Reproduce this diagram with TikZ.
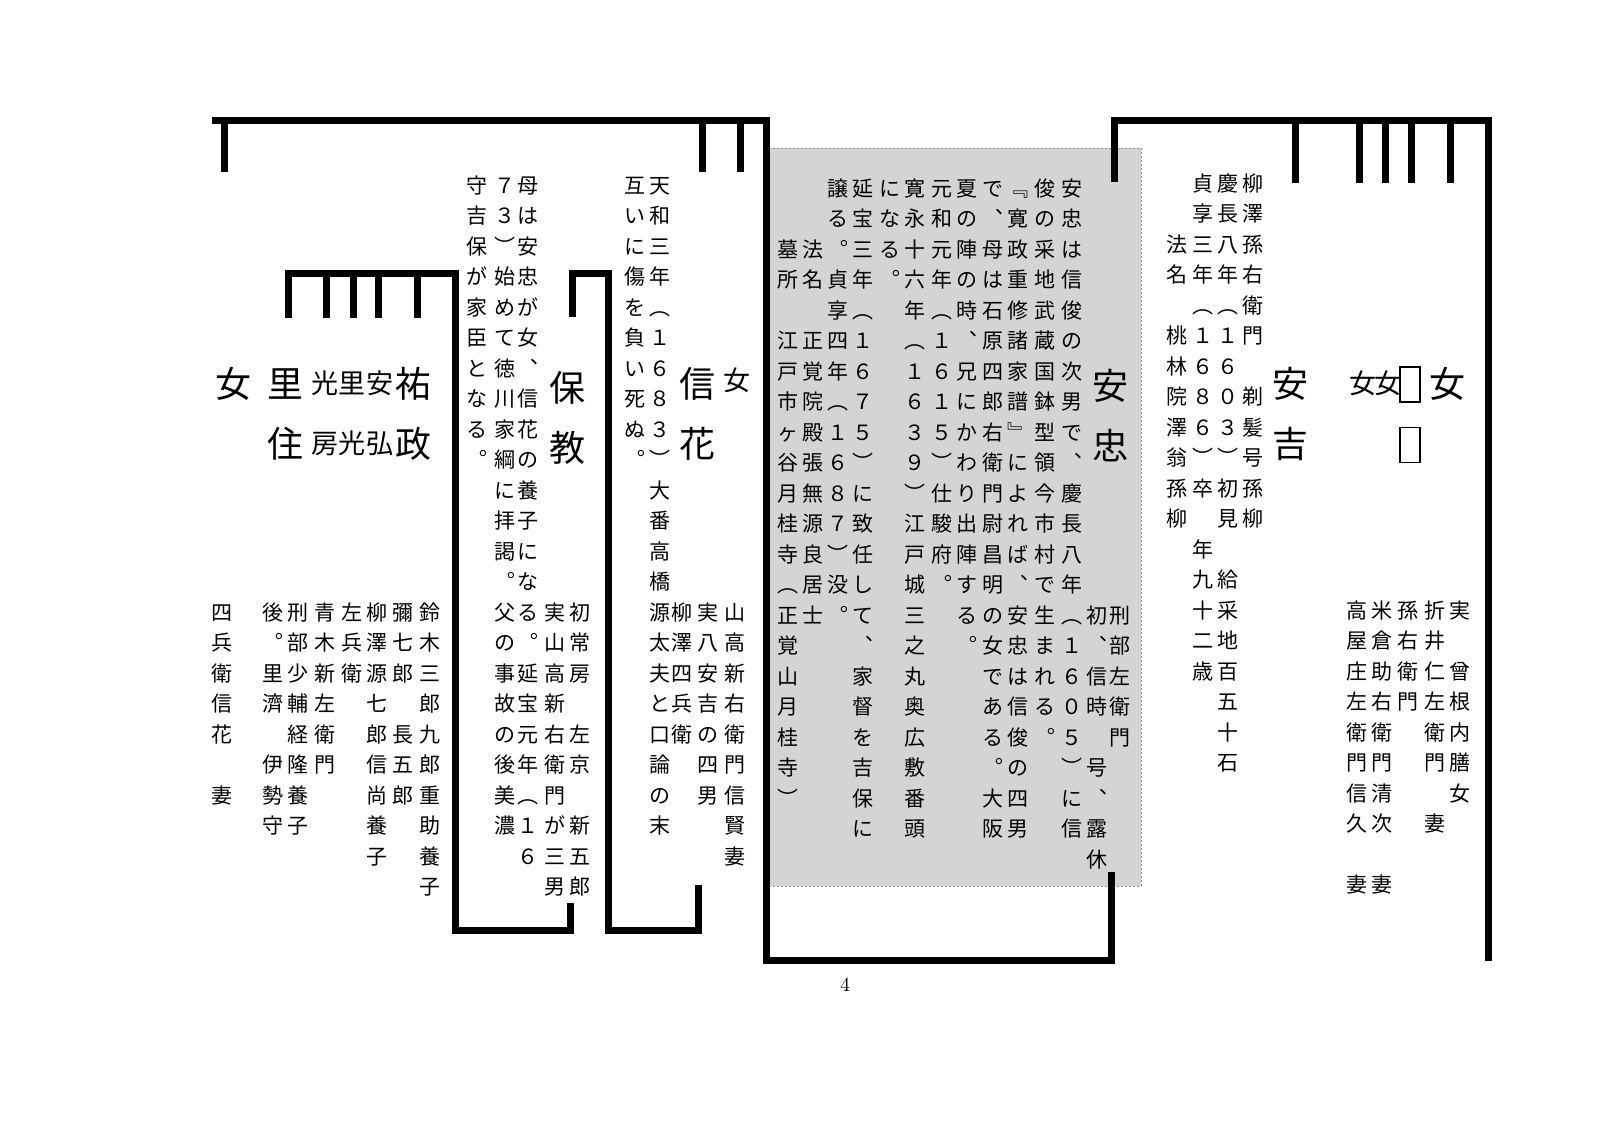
\documentclass[tikz,border=0pt]{standalone}
\usepackage{fontspec}
\newfontfamily\jp{Noto Sans CJK JP}
\makeatletter
\newcommand\bk{}
% vertical column: each character in a fixed cell of height #1
\newcommand\vcol[2][15.25pt]{%
  \vtop{\offinterlineskip\@tfor\vc@c:=#2\do{%
    \hbox to 1.2em{\hss\vbox to #1{\vss\hbox{\rule[-0.12em]{0pt}{1em}\vc@c}\vss}\hss}}}}
\makeatother
\tikzset{
  vt/.style={inner sep=0pt, anchor=north, font=\jp\fontsize{10.5pt}{10.5pt}\selectfont},
  bigname/.style={inner sep=0pt, anchor=north, font=\jp\fontsize{18pt}{18pt}\selectfont},
  midname/.style={inner sep=0pt, anchor=north, font=\jp\fontsize{13.5pt}{13.5pt}\selectfont},
  famline/.style={line width=3.5pt, line join=miter},
  tofu/.style={draw, line width=0.8pt, inner sep=0pt, minimum width=10pt, minimum height=17.5pt},
  graybox/.style={fill=black!17, draw=black!45, line width=0.5pt, dash pattern=on 1pt off 1pt},
  pagenum/.style={inner sep=0pt, font=\fontsize{10pt}{10pt}\selectfont}
}
\begin{document}
\begin{tikzpicture}[x=0.5pt, y=-0.5pt]
\useasboundingbox (0,0) rectangle (1600,1131);
\fill[white] (0,0) rectangle (1600,1131);

% shaded block
\path[graybox] (767,148) rectangle (1141,886);

% ---------- coordinates for line ends ----------
\coordinate (tl-start) at (212,120);
\coordinate (tl-corner) at (766,960);
\coordinate (yt-foot) at (1111,872);
\coordinate (tl-d1a) at (224,120); \coordinate (tl-d1b) at (224,172);
\coordinate (tl-d2a) at (702,120); \coordinate (tl-d2b) at (702,172);
\coordinate (tl-d3a) at (740,120); \coordinate (tl-d3b) at (740,172);
\coordinate (yt-head) at (1114,182);
\coordinate (tr-corner) at (1488,120);
\coordinate (tr-end) at (1488,961);
\coordinate (lg-foot) at (570,903);
\coordinate (lg-bot) at (455,930);
\coordinate (lg-top) at (288,273);
\coordinate (lg-d1) at (288,318);
\coordinate (nh-foot) at (698,885);
\coordinate (nh-bot) at (608,930);
\coordinate (nh-top) at (572,273);
\coordinate (nh-d) at (572,317);

% ---------- family lines ----------
\draw[famline] (tl-start) -| (tl-corner) -| (yt-foot);
\draw[famline] (tl-d1a) -- (tl-d1b);
\draw[famline] (tl-d2a) -- (tl-d2b);
\draw[famline] (tl-d3a) -- (tl-d3b);
\draw[famline] (yt-head) |- (tr-corner) -- (tr-end);
\foreach \xx/\nm in {1295/a,1359/b,1385/c,1411/d,1450/e}{
  \coordinate (tr-\nm-top) at (\xx,120);
  \coordinate (tr-\nm-bot) at (\xx,183);
  \draw[famline] (tr-\nm-top) -- (tr-\nm-bot);
}
\draw[famline] (lg-foot) |- (lg-bot) |- (lg-top) -- (lg-d1);
\foreach \xx/\nm in {326/b,353/c,378/d,417/e}{
  \coordinate (lg-\nm-top) at (\xx,273);
  \coordinate (lg-\nm-bot) at (\xx,318);
  \draw[famline] (lg-\nm-top) -- (lg-\nm-bot);
}
\draw[famline] (nh-foot) |- (nh-bot) |- (nh-top) -- (nh-d);

% ---------- right section ----------
\node[bigname] (yasuyoshi) at (1290,353) {\vcol[30pt]{安吉}};
\node[midname] (onna-r1) at (1363,353) {\vcol[30pt]{女}};
\node[midname] (onna-r2) at (1388,353) {\vcol[30pt]{女}};
\node[tofu] (tofu1) at (1410,384.5) {};
\node[tofu] (tofu2) at (1410,445) {};
\node[bigname] (onna-r3) at (1447,353) {\vcol[30pt]{女}};
\node[vt] (r1) at (1253,167.75) {\vcol{柳澤孫右衛門\bk 剃髪号孫柳}};
\node[vt] (r2) at (1228,167.75) {\vcol{慶長八年︵１６０３︶初見\bk 給采地百五十石}};
\node[vt] (r3) at (1203,167.75) {\vcol{貞享三年︵１６８６︶卒\bk 年九十二歳}};
\node[vt] (r4) at (1177,167.75) {\vcol{\bk\bk 法名\bk 桃林院澤翁孫柳}};
\node[vt] (r5) at (1460,594.75) {\vcol{実\bk 曾根内膳女}};
\node[vt] (r6) at (1435,594.75) {\vcol{折井仁左衛門\bk 妻}};
\node[vt] (r7) at (1408,594.75) {\vcol{孫右衛門}};
\node[vt] (r8) at (1382,594.75) {\vcol{米倉助右衛門清次\bk 妻}};
\node[vt] (r9) at (1357,594.75) {\vcol{高屋庄左衛門信久\bk 妻}};

% ---------- centre section ----------
\node[bigname] (yasutada) at (1110,355) {\vcol[30pt]{安忠}};
\node[vt] (c14) at (1120,599.75) {\vcol{刑部左衛門}};
\node[vt] (c13) at (1097,599.75) {\vcol{初︑信時\bk 号︑露休}};
\node[vt] (c1) at (1072,172.75) {\vcol{安忠は信俊の次男で︑慶長八年︵１６０５︶に信}};
\node[vt] (c2) at (1045,172.75) {\vcol{俊の采地武蔵国鉢型領今市村で生まれる︒}};
\node[vt] (c3) at (1018,172.75) {\vcol{﹃寛政重修諸家譜﹄によれば︑安忠は信俊の四男}};
\node[vt] (c4) at (993,172.75) {\vcol{で︑母は石原四郎右衛門尉昌明の女である︒大阪}};
\node[vt] (c5) at (967,172.75) {\vcol{夏の陣の時︑兄にかわり出陣する︒}};
\node[vt] (c6) at (942,172.75) {\vcol{元和元年︵１６１５︶仕駿府︒}};
\node[vt] (c7) at (915,172.75) {\vcol{寛永十六年︵１６３９︶江戸城三之丸奥広敷番頭}};
\node[vt] (c8) at (890,172.75) {\vcol{になる︒}};
\node[vt] (c9) at (863,172.75) {\vcol{延宝三年︵１６７５︶に致任して︑家督を吉保に}};
\node[vt] (c10) at (838,172.75) {\vcol{譲る︒貞享四年︵１６８７︶没︒}};
\node[vt] (c11) at (813,172.75) {\vcol{\bk\bk 法名\bk 正覚院殿張無源良居士}};
\node[vt] (c12) at (788,172.75) {\vcol{\bk\bk 墓所\bk 江戸市ヶ谷月桂寺︵正覚山月桂寺︶}};

% ---------- Nobuhana section ----------
\node[midname] (onna-n) at (737,350) {\vcol[30pt]{女}};
\node[bigname] (nobuhana) at (697,353) {\vcol[30pt]{信花}};
\node[vt] (n5) at (735,596.75) {\vcol{山高新右衛門信賢妻}};
\node[vt] (n4) at (708,596.75) {\vcol{実八安吉の四男}};
\node[vt] (n3) at (682,596.75) {\vcol{柳澤四兵衛}};
\node[vt] (n1) at (660,169.75) {\vcol{天和三年︵１６８３︶大番高橋源太夫と口論の末}};
\node[vt] (n2) at (635,169.75) {\vcol{互いに傷を負い死ぬ︒}};

% ---------- Yasunori section ----------
\node[bigname] (yasunori) at (567,357) {\vcol[30pt]{保教}};
\node[vt] (p5) at (580,596.75) {\vcol{初常房\bk 左京\bk 新五郎}};
\node[vt] (p4) at (555,596.75) {\vcol{実山高新右衛門が三男}};
\node[vt] (p1) at (528,169.75) {\vcol{母は安忠が女︑信花の養子になる︒延宝元年︵１６}};
\node[vt] (p2) at (505,169.75) {\vcol{７３︶始めて徳川家綱に拝謁︒父の事故の後美濃}};
\node[vt] (p3) at (477,169.75) {\vcol{守吉保が家臣となる︒}};

% ---------- left section ----------
\node[bigname] (sukemasa) at (413,353) {\vcol[30pt]{祐政}};
\node[midname] (yasuhiro) at (380,353) {\vcol[30pt]{安弘}};
\node[midname] (satomitsu) at (352,353) {\vcol[30pt]{里光}};
\node[midname] (mitsufusa) at (325,353) {\vcol[30pt]{光房}};
\node[bigname] (satozumi) at (285,353) {\vcol[30pt]{里住}};
\node[bigname] (onna-l) at (233,353) {\vcol[30pt]{女}};
\node[vt] (l1) at (430,596.75) {\vcol{鈴木三郎九郎重助養子}};
\node[vt] (l2) at (403,596.75) {\vcol{彌七郎\bk 長五郎}};
\node[vt] (l3) at (377,596.75) {\vcol{柳澤源七郎信尚養子}};
\node[vt] (l4) at (352,596.75) {\vcol{左兵衛}};
\node[vt] (l5) at (325,596.75) {\vcol{青木新左衛門}};
\node[vt] (l6) at (298,596.75) {\vcol{刑部少輔経隆養子}};
\node[vt] (l7) at (273,596.75) {\vcol{後︒里濟\bk 伊勢守}};
\node[vt] (l8) at (222,596.75) {\vcol{四兵衛信花\bk 妻}};

% page number
\node[pagenum] (page) at (845,985) {4};
\end{tikzpicture}
\end{document}
